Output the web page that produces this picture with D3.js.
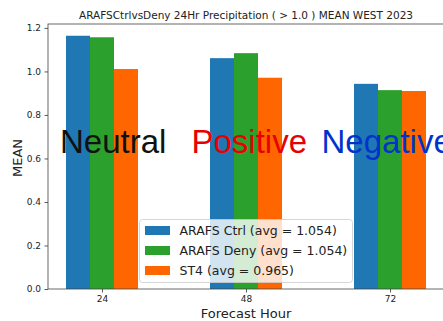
<!DOCTYPE html>
<html>
<head>
<meta charset="utf-8">
<script src="https://cdn.jsdelivr.net/npm/d3@7"></script>
<style>
  body { margin: 0; background: #fff; }
  svg { display: block; font-family: "DejaVu Sans", sans-serif; }
</style>
</head>
<body>
<script>
// Data
var hours = ["24", "48", "72"];
var seriesNames = ["ARAFS Ctrl (avg = 1.054)", "ARAFS Deny (avg = 1.054)", "ST4 (avg = 0.965)"];
var ctrlValues = [1.164, 1.061, 0.943];
var denyValues = [1.157, 1.084, 0.914];
var st4Values = [1.011, 0.971, 0.910];
var seriesColors = ["#1f77b4", "#2ca02c", "#ff6600"];
var yTicks = [0.0, 0.2, 0.4, 0.6, 0.8, 1.0, 1.2];
var overlayWords = ["Neutral", "Positive", "Negative"];
var overlayColors = ["#111111", "#e60000", "#0033cc"];

var series = [ctrlValues, denyValues, st4Values];

// Dimensions
var W = 443, H = 321;
var margin = { top: 24, left: 48 },
    width = 396,
    height = 265;
var barW = 1 / 6;

var svg = d3.select("body")
    .append("svg")
    .attr("width", W)
    .attr("height", H);

var g = svg.append("g")
    .attr("transform", "translate(" + margin.left + "," + margin.top + ")");

// Scales
var x = d3.scaleLinear()
    .domain([-0.375, 2.375])
    .range([0, width]);

var y = d3.scaleLinear()
    .domain([0, 1.218])
    .range([height, 0]);

// Bars
series.forEach(function (vals, k) {
    g.selectAll(".bar" + k)
        .data(vals)
        .enter().append("rect")
        .attr("class", "bar" + k)
        .attr("x", function (d, i) { return x(i + (k - 1) * barW - barW / 2); })
        .attr("width", x(barW) - x(0))
        .attr("y", function (d) { return y(d); })
        .attr("height", function (d) { return y(0) - y(d); })
        .style("fill", seriesColors[k]);
});

// Axes
var xAxis = g.append("g")
    .attr("transform", "translate(0," + height + ")")
    .call(d3.axisBottom(x).tickValues([0, 1, 2])
        .tickFormat(function (d) { return hours[d]; })
        .tickSize(3.5).tickPadding(3.5));

var yAxis = g.append("g")
    .call(d3.axisLeft(y).tickValues(yTicks)
        .tickFormat(d3.format(".1f"))
        .tickSize(3.5).tickPadding(3.5));

[xAxis, yAxis].forEach(function (a) {
    a.select(".domain").remove();
    a.selectAll("line").attr("stroke", "#333").attr("stroke-width", 0.8);
    a.selectAll("text").attr("font-size", "9px").attr("fill", "#222")
        .attr("font-family", "DejaVu Sans, sans-serif");
});

// Frame
g.append("rect")
    .attr("width", width)
    .attr("height", height)
    .attr("fill", "none")
    .attr("stroke", "#444")
    .attr("stroke-width", 0.8);

// Big overlay words
var wordX = [60, 191.5, 321.5];
overlayWords.forEach(function (w, i) {
    svg.append("text")
        .attr("x", wordX[i])
        .attr("y", 153)
        .attr("font-family", "Liberation Sans, Arial, sans-serif")
        .attr("font-size", "33px")
        .attr("fill", overlayColors[i])
        .text(w);
});

// Title
svg.append("text")
    .attr("x", margin.left + width / 2)
    .attr("y", 19)
    .attr("text-anchor", "middle")
    .attr("font-size", "10.5px")
    .attr("fill", "#222")
    .text("ARAFSCtrlvsDeny 24Hr Precipitation ( > 1.0 ) MEAN WEST 2023");

// Axis labels
svg.append("text")
    .attr("x", margin.left + width / 2)
    .attr("y", 318)
    .attr("text-anchor", "middle")
    .attr("font-size", "13px")
    .attr("fill", "#222")
    .text("Forecast Hour");

svg.append("text")
    .attr("transform", "translate(22,158) rotate(-90)")
    .attr("text-anchor", "middle")
    .attr("font-size", "13px")
    .attr("fill", "#222")
    .text("MEAN");

// Legend
var legend = svg.append("g")
    .attr("transform", "translate(139.5,219.5)");

legend.append("rect")
    .attr("width", 213)
    .attr("height", 63)
    .attr("rx", 3)
    .attr("fill", "#fff")
    .attr("fill-opacity", 0.8)
    .attr("stroke", "#ccc")
    .attr("stroke-width", 0.8);

var item = legend.selectAll(".legend")
    .data(seriesNames)
    .enter().append("g")
    .attr("class", "legend")
    .attr("transform", function (d, i) { return "translate(0," + i * 20 + ")"; });

item.append("rect")
    .attr("x", 5.5)
    .attr("y", 6.5)
    .attr("width", 25)
    .attr("height", 9)
    .style("fill", function (d, i) { return seriesColors[i]; });

item.append("text")
    .attr("x", 40)
    .attr("y", 11)
    .attr("dy", ".35em")
    .attr("font-size", "12.5px")
    .attr("fill", "#222")
    .text(function (d) { return d; });
</script>
</body>
</html>
